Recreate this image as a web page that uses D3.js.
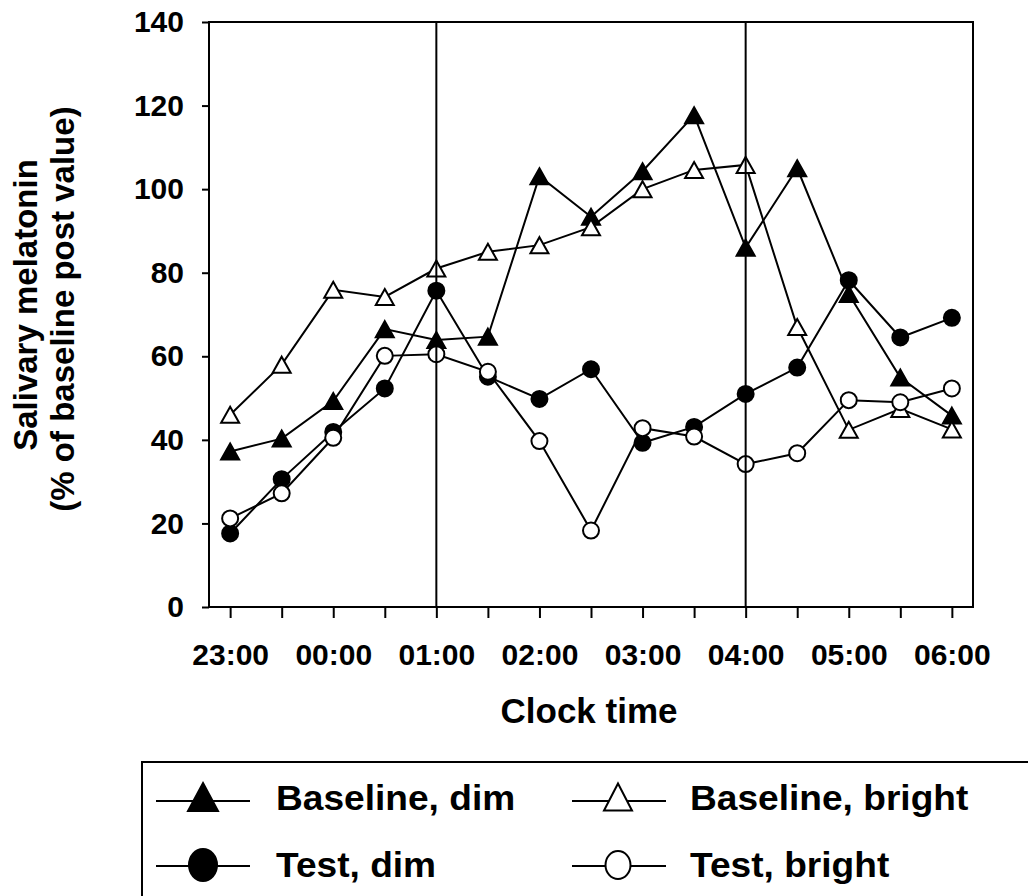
<!DOCTYPE html>
<html>
<head>
<meta charset="utf-8">
<script src="https://cdn.jsdelivr.net/npm/d3@7"></script>
<style>
  html, body { margin: 0; padding: 0; background: #fff; }
  svg { display: block; font-family: "Liberation Sans", Arial, sans-serif; font-weight: bold; }
</style>
</head>
<body>
<svg id="chart" width="1028" height="896"></svg>
<script>
// ---- data ----
const timeLabels = ["23:00", "", "00:00", "", "01:00", "", "02:00", "", "03:00", "", "04:00", "", "05:00", "", "06:00"];
const baselineDim    = [37.2, 40.3, 49.3, 66.5, 63.9, 64.7, 103.1, 93.4, 104.3, 117.7, 86.0, 105.0, 74.9, 54.9, 45.8];
const baselineBright = [46.0, 58.0, 75.9, 74.2, 81.0, 85.0, 86.6, 90.9, 100.0, 104.6, 105.8, 67.0, 42.4, 47.4, 42.5];
const testDim        = [17.6, 30.6, 41.9, 52.3, 75.7, 55.1, 49.8, 56.9, 39.3, 43.1, 51.0, 57.3, 78.2, 64.5, 69.2];
const testBright     = [21.2, 27.2, 40.5, 60.1, 60.5, 56.3, 39.7, 18.3, 42.8, 40.8, 34.2, 36.8, 49.5, 49.0, 52.3];
const yTicks = [0, 20, 40, 60, 80, 100, 120, 140];
const refLines = [4, 10]; // 01:00 and 04:00
const seriesNames = ["Baseline, dim", "Baseline, bright", "Test, dim", "Test, bright"];

(function () {
// ---- layout ----
const svg = d3.select("#chart");
const pL = 209, pR = 973, pT = 22, pB = 607;
const x = d3.scaleLinear().domain([-0.41, timeLabels.length - 1 + 0.41]).range([pL, pR]);
const y = d3.scaleLinear().domain([0, 140]).range([pB, pT]);

const series = [
  { name: seriesNames[0], values: baselineDim,    shape: "tri",    fill: "#000" },
  { name: seriesNames[1], values: baselineBright, shape: "tri",    fill: "#fff" },
  { name: seriesNames[2], values: testDim,        shape: "circle", fill: "#000" },
  { name: seriesNames[3], values: testBright,     shape: "circle", fill: "#fff" }
];

function triPath(w, h) {
  return `M0,${-h/2}L${w/2},${h/2}L${-w/2},${h/2}Z`;
}

// axes
const xAxis = d3.axisBottom(x)
  .tickValues(d3.range(timeLabels.length))
  .tickFormat(i => timeLabels[i])
  .tickSize(11).tickPadding(26);
const gx = svg.append("g").attr("transform", `translate(0,${pB})`).call(xAxis);
gx.select(".domain").remove();
gx.selectAll(".tick line").attr("stroke", "#000").attr("stroke-width", 2);
gx.selectAll(".tick text").attr("font-size", 30).attr("fill", "#000")
  .attr("font-family", "'Liberation Sans', Arial, sans-serif").attr("font-weight", "bold");

const yAxis = d3.axisLeft(y).tickValues(yTicks).tickSize(7).tickPadding(18);
const gy = svg.append("g").attr("transform", `translate(${pL},0)`).call(yAxis);
gy.select(".domain").remove();
gy.selectAll(".tick line").attr("stroke", "#000").attr("stroke-width", 2);
gy.selectAll(".tick text").attr("font-size", 30).attr("fill", "#000")
  .attr("font-family", "'Liberation Sans', Arial, sans-serif").attr("font-weight", "bold");

// frame
svg.append("rect").attr("x", pL).attr("y", pT)
  .attr("width", pR - pL).attr("height", pB - pT)
  .attr("fill", "none").attr("stroke", "#000").attr("stroke-width", 2);

// series
const line = d3.line().x((d, i) => x(i)).y(d => y(d));
series.forEach(s => {
  const g = svg.append("g");
  g.append("path").attr("d", line(s.values)).attr("fill", "none")
    .attr("stroke", "#000").attr("stroke-width", 2);
  s.values.forEach((v, i) => {
    if (s.shape === "tri") {
      g.append("path").attr("d", triPath(18, 16))
        .attr("transform", `translate(${x(i)},${y(v)})`)
        .attr("fill", s.fill).attr("stroke", "#000").attr("stroke-width", 2);
    } else {
      g.append("circle").attr("cx", x(i)).attr("cy", y(v)).attr("r", 8)
        .attr("fill", s.fill).attr("stroke", "#000").attr("stroke-width", 2);
    }
  });
});

// reference vertical lines (on top)
refLines.forEach(i => {
  svg.append("line").attr("x1", x(i)).attr("x2", x(i)).attr("y1", pT).attr("y2", pB)
    .attr("stroke", "#000").attr("stroke-width", 2);
});

// axis titles
svg.append("text").attr("x", (pL + pR) / 2 - 2).attr("y", 723)
  .attr("text-anchor", "middle").attr("font-size", 35).text("Clock time");
const yt = svg.append("text").attr("transform", "translate(0,305) rotate(-90)")
  .attr("text-anchor", "middle").attr("font-size", 33);
yt.append("tspan").attr("x", 0).attr("y", 37).text("Salivary melatonin");
yt.append("tspan").attr("x", -4).attr("y", 74).text("(% of baseline post value)");

// legend
svg.append("rect").attr("x", 142).attr("y", 762).attr("width", 920).attr("height", 160)
  .attr("fill", "none").attr("stroke", "#000").attr("stroke-width", 2);
const legPos = [
  { lx: 156, mx: 203, tx: 276, ly: 801, ty: 810 },
  { lx: 572, mx: 618, tx: 690, ly: 801, ty: 810 },
  { lx: 156, mx: 203, tx: 276, ly: 866, ty: 877 },
  { lx: 572, mx: 618, tx: 690, ly: 866, ty: 877 }
];
series.forEach((s, k) => {
  const p = legPos[k];
  const g = svg.append("g");
  g.append("line").attr("x1", p.lx).attr("x2", p.lx + 94).attr("y1", p.ly).attr("y2", p.ly)
    .attr("stroke", "#000").attr("stroke-width", 2);
  if (s.shape === "tri") {
    const w = s.fill === "#000" ? 30 : 28, h = s.fill === "#000" ? 28 : 27;
    g.append("path").attr("d", triPath(w, h))
      .attr("transform", `translate(${p.mx},${p.ly - 4})`)
      .attr("fill", s.fill).attr("stroke", "#000").attr("stroke-width", 2);
  } else {
    const rx = s.fill === "#000" ? 14 : 12.5, ry = s.fill === "#000" ? 16 : 14;
    g.append("ellipse").attr("cx", p.mx).attr("cy", p.ly - 1).attr("rx", rx).attr("ry", ry)
      .attr("fill", s.fill).attr("stroke", "#000").attr("stroke-width", 2);
  }
  const t = g.append("text").attr("x", p.tx).attr("y", p.ty).attr("font-size", 35).text(s.name);
  const len = t.node().getComputedTextLength();
  t.attr("textLength", len * 1.06).attr("lengthAdjust", "spacingAndGlyphs");
});
})();
</script>
</body>
</html>
